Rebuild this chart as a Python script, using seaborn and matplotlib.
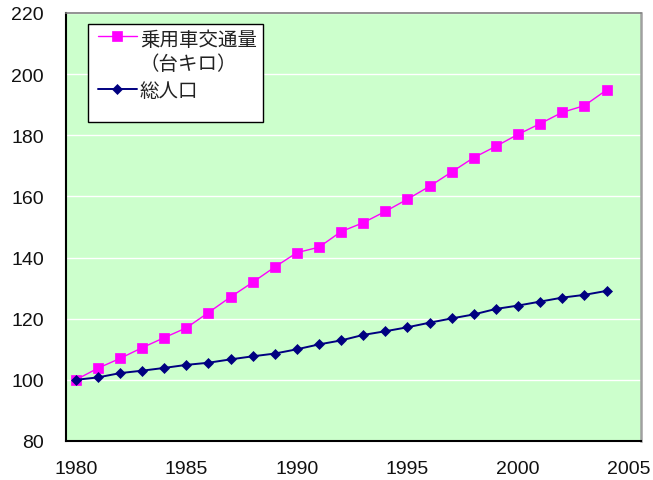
import matplotlib
matplotlib.use("Agg")
import matplotlib.pyplot as plt
import seaborn as sns
import numpy as np
from matplotlib import font_manager as fm
from matplotlib.patches import Rectangle
from matplotlib.ticker import FixedLocator

years = list(range(1980, 2005))
car_traffic = [100.0, 103.8, 107.0, 110.5, 113.8, 117.0, 122.0, 127.1, 131.9, 136.9,
               141.6, 143.4, 148.5, 151.4, 155.1, 159.1, 163.3, 168.0, 172.7, 176.4,
               180.3, 183.8, 187.5, 189.7, 194.8]
population = [100.0, 100.8, 102.2, 103.0, 103.9, 104.9, 105.6, 106.7, 107.7, 108.6,
              110.0, 111.6, 112.9, 114.7, 115.9, 117.2, 118.7, 120.1, 121.4, 123.2,
              124.3, 125.6, 126.9, 127.8, 129.1]
labels = ["乗用車交通量\n（台キロ）", "総人口"]
y_ticks = [80, 100, 120, 140, 160, 180, 200, 220]
x_ticks = [1980, 1985, 1990, 1995, 2000, 2005]

sns.set_style("white")
names = {f.name for f in fm.fontManager.ttflist}
narrow = "Liberation Sans Narrow" in names
num_font = "Liberation Sans Narrow" if narrow else "Liberation Sans"
plt.rcParams['font.family'] = ['Noto Sans CJK JP', 'DejaVu Sans']

fig = plt.figure(figsize=(6.53, 4.81), dpi=100)
W, H = 653, 481
ax = fig.add_axes([66 / W, 1 - 442 / H, (641 - 66) / W, (442 - 14) / H])
ax.set_facecolor('#CCFFCC')

sns.lineplot(x=years, y=car_traffic, ax=ax, color='#FF00FF', linewidth=1.0,
             marker='s', markersize=6.5, markeredgecolor='#FF00FF', markeredgewidth=0.5,
             label=labels[0], zorder=3)
sns.lineplot(x=years, y=population, ax=ax, color='#000080', linewidth=1.4,
             marker='D', markersize=5.5, markeredgecolor='#000080', markeredgewidth=0.5,
             label=labels[1], zorder=4)

ax.set_ylim(80, 220)
ax.set_xlim(1979.56, 2005.56)
ax.set_yticks(y_ticks)
ax.set_xticks(x_ticks)
ax.xaxis.set_minor_locator(FixedLocator([1980.56 + k for k in range(25)]))
ax.grid(axis='y', color='white', linewidth=1.0)
ax.set_axisbelow(True)
ax.set_xlabel("")
ax.set_ylabel("")

ax.tick_params(axis='x', which='major', length=0, pad=14)
ax.tick_params(axis='x', which='minor', direction='in', length=5, width=1, color='black')
ax.tick_params(axis='y', which='major', direction='in', length=5, width=1, color='black', pad=16)
for lab in ax.get_xticklabels() + ax.get_yticklabels():
    lab.set_fontfamily(num_font)
    lab.set_fontsize(15 if narrow else 14)
    lab.set_color('#111111')

for s in ['left', 'bottom']:
    ax.spines[s].set_color('black')
    ax.spines[s].set_linewidth(1.5)
ax.spines['top'].set_color('#808080')
ax.spines['top'].set_linewidth(1.2)
ax.spines['right'].set_color('#A0A0A0')
ax.spines['right'].set_linewidth(1.8)

# legend frame (Excel style, larger than content)
rect = Rectangle((88 / W, 1 - 123 / H), (263 - 88) / W, (123 - 25) / H,
                 transform=fig.transFigure, facecolor='white', edgecolor='black',
                 linewidth=1.0, zorder=5, clip_on=False)
ax.add_patch(rect)

fs = 14
leg = ax.legend(loc='upper left', bbox_to_anchor=(98 / W, 1 - 30 / H),
                bbox_transform=fig.transFigure, frameon=False, fontsize=fs,
                handlelength=2.0, handletextpad=0.15, borderpad=0.0,
                labelspacing=0.3, borderaxespad=0)
leg.set_zorder(6)
for t in leg.get_texts():
    t.set_color('#222222')
# align the first entry's handle with the first line of its two-line label
try:
    col = leg._legend_handle_box.get_children()[0]
    col.get_children()[0].align = "top"
except Exception:
    pass

fig.savefig("out.png", dpi=100)
